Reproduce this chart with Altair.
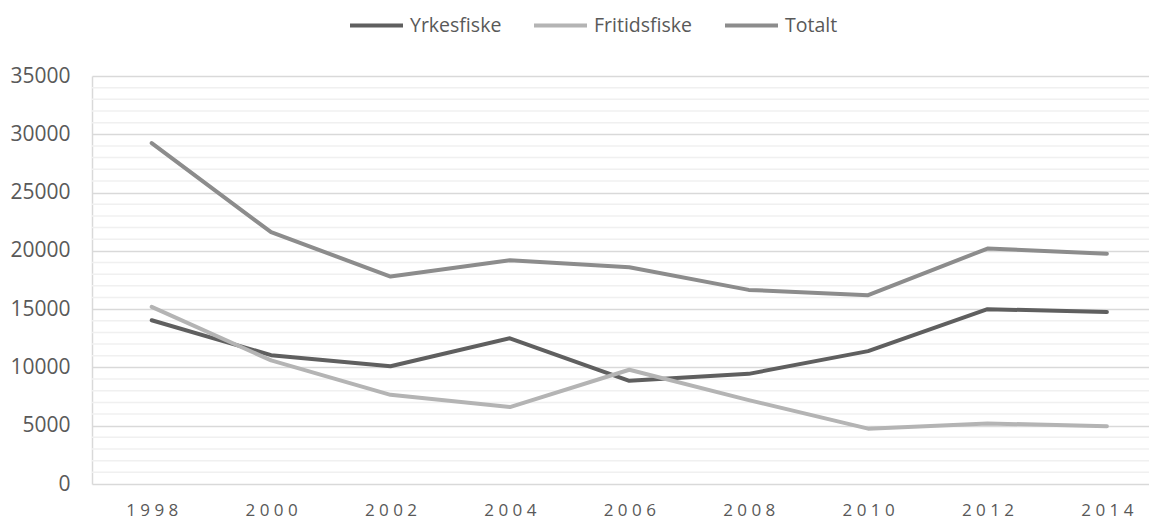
import altair as alt
import pandas as pd

years = [1998, 2000, 2002, 2004, 2006, 2008, 2010, 2012, 2014]
yrkesfiske = [14050, 11050, 10100, 12500, 8850, 9450, 11400, 15000, 14750]
fritidsfiske = [15200, 10600, 7650, 6600, 9800, 7200, 4750, 5200, 4950]
totalt = [29250, 21600, 17800, 19200, 18600, 16650, 16200, 20200, 19750]

series_names = ["Yrkesfiske", "Fritidsfiske", "Totalt"]
series_colors = ["#5f5f5f", "#b4b4b4", "#8c8c8c"]

major_ticks = [0, 5000, 10000, 15000, 20000, 25000, 30000, 35000]
minor_ticks = [v for v in range(1000, 35000, 1000) if v % 5000 != 0]

rows = []
for name, vals in zip(series_names, [yrkesfiske, fritidsfiske, totalt]):
    for yr, v in zip(years, vals):
        rows.append({"year": yr, "value": v, "series": name})
df = pd.DataFrame(rows)
minor_df = pd.DataFrame({"v": minor_ticks})

FONT = "Open Sans"
TXT = "#595959"

W = 1057
xscale = alt.Scale(domain=[1997, 1997 + W / 59.7], nice=False, zero=False)
yscale = alt.Scale(domain=[0, 35000], nice=False)

minor = alt.Chart(minor_df).mark_rule(color="#f0f0f0", strokeWidth=1.5).encode(
    y=alt.Y("v:Q", scale=yscale)
)

lines = alt.Chart(df).mark_line(strokeWidth=4, strokeCap="round", strokeJoin="round").encode(
    x=alt.X(
        "year:Q",
        scale=xscale,
        axis=alt.Axis(
            values=years,
            title=None,
            ticks=False,
            grid=False,
            domain=False,
            labelFont=FONT,
            labelFontSize=17,
            labelColor=TXT,
            labelPadding=18,
            labelExpr="join(split(toString(datum.value), ''), ' ')",
        ),
    ),
    y=alt.Y(
        "value:Q",
        scale=yscale,
        axis=alt.Axis(
            values=major_ticks,
            title=None,
            ticks=False,
            grid=True,
            gridColor="#d9d9d9",
            gridWidth=1.5,
            domain=True,
            domainColor="#d9d9d9",
            domainWidth=1.5,
            labelFont=FONT,
            labelFontSize=21,
            labelColor=TXT,
            labelPadding=22,
            format="d",
        ),
    ),
    stroke=alt.Stroke(
        "series:N",
        scale=alt.Scale(domain=series_names, range=series_colors),
        sort=series_names,
        legend=alt.Legend(
            title=None,
            orient="none",
            legendX=256,
            legendY=-79,
            direction="horizontal",
            symbolType="stroke",
            symbolSize=2809,
            symbolStrokeWidth=4,
            labelFont=FONT,
            labelFontSize=19.5,
            labelColor=TXT,
            labelOffset=5,
            columnPadding=24,
        ),
    ),
    order=alt.Order("year:Q"),
)

chart = alt.layer(minor, lines).properties(
    width=W,
    height=408,
    autosize=alt.AutoSizeParams(type="none"),
    padding={"left": 84, "top": 68, "right": 0, "bottom": 35},
).configure_view(stroke=None)

chart.save("out.html", embed_options={"renderer": "svg", "actions": False})
